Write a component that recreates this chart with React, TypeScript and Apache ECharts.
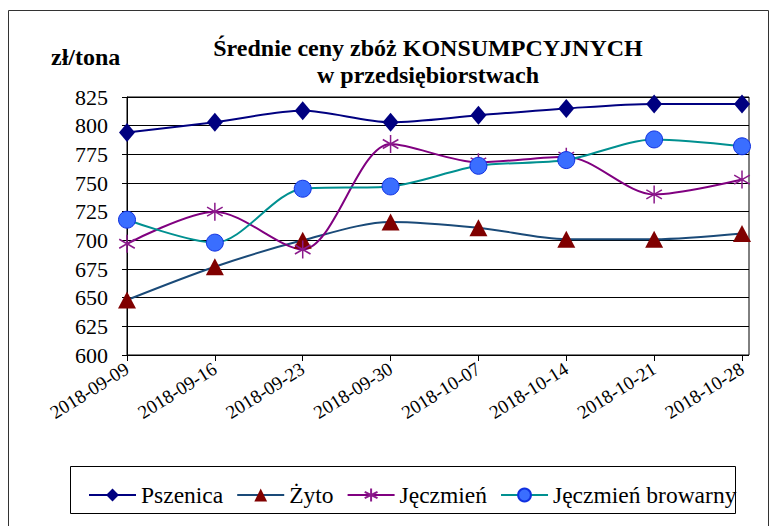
import React, { useEffect, useRef } from "react";
import * as echarts from "echarts";

const categories = ["2018-09-09", "2018-09-16", "2018-09-23", "2018-09-30", "2018-10-07", "2018-10-14", "2018-10-21", "2018-10-28"];
const pszenica = [794, 803, 813, 803, 809, 815, 819, 819];
const zyto = [648, 677, 700, 716, 711, 701, 701, 706];
const jeczmien = [697, 725, 692, 784, 768, 773, 740, 753];
const browarny = [718, 698, 745, 747, 765, 770, 788, 782];
const legendNames = ["Pszenica", "Żyto", "Jęczmień", "Jęczmień browarny"];

const FONT = "Liberation Serif, Times New Roman, Tinos, serif";
const STAR = "path://M0,-10L0,10M-8.66,-5L8.66,5M-8.66,5L8.66,-5";

export default function App() {
  const ref = useRef<HTMLDivElement>(null);
  useEffect(() => {
    const theme = { textStyle: { fontFamily: FONT } };
    const chart = echarts.init(ref.current!, theme as any, { renderer: "svg" });
    const yAxisBase = { type: "value", min: 600, max: 825, interval: 25 };
    chart.setOption({
      animation: false,
      backgroundColor: "#fff",
      textStyle: { fontFamily: FONT },
      graphic: [
        { type: "rect", shape: { x: 8.5, y: 10.5, width: 760, height: 530 }, style: { fill: "none", stroke: "#333", lineWidth: 1 } },
        { type: "rect", shape: { x: 70.5, y: 466.5, width: 665, height: 47 }, style: { fill: "none", stroke: "#000", lineWidth: 1 } },
        { type: "text", x: 51, y: 57, style: { text: "zł/tona", fontFamily: FONT, fontWeight: "bold", fontSize: 24, fill: "#000", verticalAlign: "middle" } },
      ],
      title: {
        text: "Średnie ceny zbóż KONSUMPCYJNYCH\nw przedsiębiorstwach",
        left: 423,
        textAlign: "center",
        top: 29,
        textStyle: { fontFamily: FONT, fontWeight: "bold", fontSize: 24, lineHeight: 27, color: "#000" },
      },
      legend: {
        left: 83,
        top: 478,
        itemGap: 13,
        itemWidth: 47,
        itemHeight: 16,
        textStyle: { fontFamily: FONT, fontSize: 23.5, color: "#000" },
        data: legendNames,
      },
      grid: [
        { left: 127, right: 27, top: 97, bottom: 171 },
        { left: 127, right: 20, top: 97, bottom: 171, show: true, borderColor: "#000", borderWidth: 1 },
      ],
      xAxis: [
        {
          type: "category",
          gridIndex: 0,
          data: categories,
          boundaryGap: false,
          axisLine: { lineStyle: { color: "#000" } },
          axisTick: { alignWithLabel: true, length: 6, lineStyle: { color: "#000" } },
          axisLabel: { rotate: 32, fontSize: 19, color: "#000", fontFamily: FONT, margin: 12, interval: 0 },
          splitLine: { show: false },
        },
        { type: "value", gridIndex: 1, show: false, min: 0, max: 1 },
      ],
      yAxis: [
        {
          ...yAxisBase,
          gridIndex: 0,
          axisLine: { show: true, lineStyle: { color: "#000" } },
          axisTick: { show: true, length: 5, lineStyle: { color: "#000" } },
          axisLabel: { fontSize: 22, color: "#000", fontFamily: FONT, margin: 19 },
          splitLine: { show: false },
        },
        {
          ...yAxisBase,
          gridIndex: 1,
          axisLine: { show: false },
          axisTick: { show: false },
          axisLabel: { show: false },
          splitLine: { lineStyle: { color: "#000", width: 1 } },
        },
      ],
      series: [
        {
          name: "Pszenica", type: "line", data: pszenica, smooth: 0.3, z: 3,
          symbol: "diamond", symbolSize: [16, 19],
          lineStyle: { color: "#000080", width: 2 }, itemStyle: { color: "#000080" },
        },
        {
          name: "Żyto", type: "line", data: zyto, smooth: 0.3, z: 3,
          symbol: "triangle", symbolSize: [18, 17],
          lineStyle: { color: "#1A4A78", width: 2 }, itemStyle: { color: "#800000" },
        },
        {
          name: "Jęczmień", type: "line", data: jeczmien, smooth: 0.3, z: 3,
          symbol: STAR, symbolSize: 18, symbolKeepAspect: true,
          lineStyle: { color: "#800080", width: 2 }, itemStyle: { color: "rgba(0,0,0,0)", borderColor: "#8B1A8B", borderWidth: 1.5 },
        },
        {
          name: "Jęczmień browarny", type: "line", data: browarny, smooth: 0.3, z: 3,
          symbol: "circle", symbolSize: 17,
          lineStyle: { color: "#009090", width: 2 }, itemStyle: { color: "#3A6EFF", borderColor: "#1030E0", borderWidth: 1 },
        },
      ],
    });
    return () => chart.dispose();
  }, []);
  return <div ref={ref} style={{ position: "fixed", left: 0, top: 0, width: 769, height: 526, fontFamily: "Liberation Serif, serif" }} />;
}
